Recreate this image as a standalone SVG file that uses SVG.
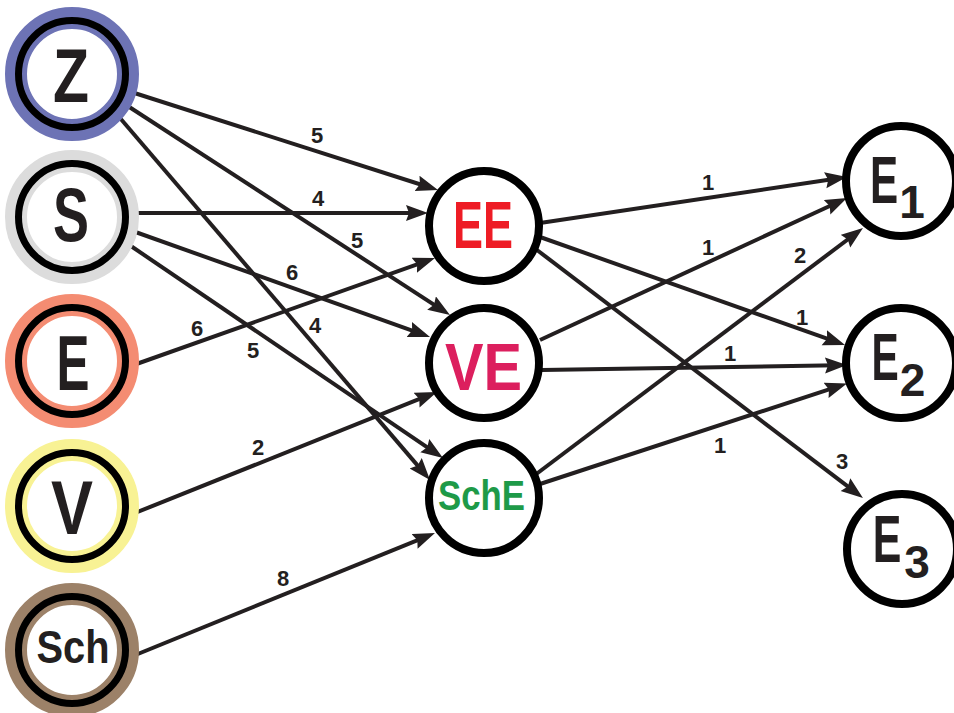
<svg xmlns="http://www.w3.org/2000/svg" width="954" height="713" viewBox="0 0 954 713">
<style>
.edge{stroke:#231F20;stroke-width:4;fill:none;marker-end:url(#ah)}
.ring{fill:#fff;stroke-width:22}
.blk{fill:none;stroke:#000;stroke-width:7}
.mid{fill:#fff;stroke:#000;stroke-width:8}
.lt{font-family:"Liberation Sans",Arial,sans-serif;font-weight:bold;fill:#231F20;text-anchor:middle}
.lbl{font-family:"Liberation Sans",Arial,sans-serif;font-weight:bold;font-size:22px;fill:#231F20;text-anchor:middle}
</style>
<defs>
<marker id="ah" markerUnits="userSpaceOnUse" markerWidth="24" markerHeight="18" refX="12" refY="8" orient="auto">
<path d="M0,0 L22,8 L0,16 L3,8 z" fill="#231F20"/>
</marker>
</defs>
<rect width="954" height="713" fill="#fff"/>
<g id="connectors">
<line class="edge" x1="125" y1="90" x2="428.5" y2="187"/>
<line class="edge" x1="128" y1="213" x2="418" y2="213"/>
<line class="edge" x1="120" y1="101" x2="441.6" y2="309.6"/>
<line class="edge" x1="114" y1="111" x2="423.5" y2="472.4"/>
<line class="edge" x1="127" y1="229" x2="420.6" y2="333.6"/>
<line class="edge" x1="125" y1="242" x2="434.7" y2="452.4"/>
<line class="edge" x1="128" y1="367" x2="425.6" y2="261.3"/>
<line class="edge" x1="125" y1="517" x2="427.7" y2="395.7"/>
<line class="edge" x1="128" y1="658" x2="425.7" y2="536.8"/>
<line class="edge" x1="540" y1="223" x2="837.1" y2="178.5"/>
<line class="edge" x1="540" y1="340" x2="837.9" y2="202.2"/>
<line class="edge" x1="535" y1="475" x2="855" y2="234"/>
<line class="edge" x1="540" y1="237" x2="835.6" y2="341.7"/>
<line class="edge" x1="537" y1="250" x2="855" y2="491.9"/>
<line class="edge" x1="542" y1="370" x2="837" y2="365.2"/>
<line class="edge" x1="540" y1="484" x2="837.5" y2="386.6"/>
<text class="lbl" x="317" y="143">5</text>
<text class="lbl" x="318" y="206">4</text>
<text class="lbl" x="357" y="248">5</text>
<text class="lbl" x="292" y="280">6</text>
<text class="lbl" x="197" y="336">6</text>
<text class="lbl" x="253" y="358">5</text>
<text class="lbl" x="315" y="333">4</text>
<text class="lbl" x="258" y="455">2</text>
<text class="lbl" x="283" y="586">8</text>
<text class="lbl" x="708" y="190">1</text>
<text class="lbl" x="708" y="255">1</text>
<text class="lbl" x="800" y="263">2</text>
<text class="lbl" x="802" y="325">1</text>
<text class="lbl" x="730" y="361">1</text>
<text class="lbl" x="720" y="453">1</text>
<text class="lbl" x="842" y="469">3</text>
</g>
<g id="Z">
<circle class="ring" cx="72" cy="74" r="56" stroke="#6D73B5"/>
<circle class="blk" cx="72" cy="74" r="53.5"/>
<text class="lt" x="71" y="102" font-size="76" textLength="36" lengthAdjust="spacingAndGlyphs">Z</text>
</g>
<g id="S">
<circle class="ring" cx="72" cy="217" r="56" stroke="#DCDCDC"/>
<circle class="blk" cx="72" cy="217" r="53.5"/>
<text class="lt" x="71" y="241" font-size="76" textLength="36" lengthAdjust="spacingAndGlyphs">S</text>
</g>
<g id="E">
<circle class="ring" cx="72" cy="361" r="56" stroke="#F48C72"/>
<circle class="blk" cx="72" cy="361" r="53.5"/>
<text class="lt" x="73" y="390" font-size="78" textLength="33" lengthAdjust="spacingAndGlyphs">E</text>
</g>
<g id="V">
<circle class="ring" cx="72" cy="506" r="56" stroke="#F8F294"/>
<circle class="blk" cx="72" cy="506" r="53.5"/>
<text class="lt" x="72" y="534" font-size="76" textLength="42" lengthAdjust="spacingAndGlyphs">V</text>
</g>
<g id="Sch">
<circle class="ring" cx="72" cy="650" r="56" stroke="#9C8168"/>
<circle class="blk" cx="72" cy="650" r="53.5"/>
<text class="lt" x="73" y="663" font-size="46" textLength="73" lengthAdjust="spacingAndGlyphs">Sch</text>
</g>
<g id="EE">
<circle class="mid" cx="484" cy="226" r="55"/>
<text class="lt" x="483" y="248" font-size="66" style="fill:#EE1C25" textLength="60" lengthAdjust="spacingAndGlyphs">EE</text>
</g>
<g id="VE">
<circle class="mid" cx="484" cy="363" r="55"/>
<text class="lt" x="483.5" y="390" font-size="66" style="fill:#DC1F5E" textLength="77" lengthAdjust="spacingAndGlyphs">VE</text>
</g>
<g id="SchE">
<circle class="mid" cx="484" cy="498" r="55"/>
<text class="lt" x="481.5" y="510" font-size="42" style="fill:#1E9A48" textLength="87" lengthAdjust="spacingAndGlyphs">SchE</text>
</g>
<g id="E1">
<circle class="mid" cx="901" cy="181" r="55"/>
<text class="lt" transform="translate(884,203) scale(0.63,1)" font-size="67">E</text>
<text class="lt" x="912" y="218" font-size="46">1</text>
</g>
<g id="E2">
<circle class="mid" cx="901" cy="363" r="55"/>
<text class="lt" transform="translate(885,380) scale(0.61,1)" font-size="67">E</text>
<text class="lt" x="912.5" y="396" font-size="46">2</text>
</g>
<g id="E3">
<circle class="mid" cx="902" cy="549" r="55"/>
<text class="lt" transform="translate(887,562) scale(0.64,1)" font-size="67">E</text>
<text class="lt" x="917" y="578" font-size="46">3</text>
</g>
</svg>
